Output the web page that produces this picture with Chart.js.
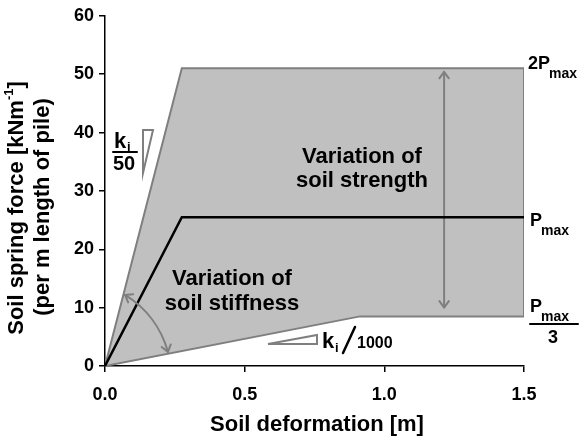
<!DOCTYPE html>
<html>
<head>
<meta charset="utf-8">
<script src="https://cdn.jsdelivr.net/npm/chart.js"></script>
<style>
  html, body { margin: 0; padding: 0; background: #fff; }
  #wrap { width: 581px; height: 439px; }
</style>
</head>
<body>
<div id="wrap"><canvas id="chart" width="581" height="439"></canvas></div>
<script>
// grey band: range of soil spring curves (ki/50 .. ki/1000, Pmax/3 .. 2Pmax)
const envelopeX = [0, 0.275, 1.5, 1.5, 0.913, 0];
const envelopeY = [0, 51, 51, 8.5, 8.5, 0];
// reference curve
const pmaxX = [0, 0.275, 1.5];
const pmaxY = [0, 25.5, 25.5];
// double arrow for "variation of soil strength"
const arrowX = [1.214, 1.214];
const arrowY = [10, 50.4];
// axis ticks
const xTicks = [0, 0.5, 1.0, 1.5];
const yTicks = [0, 10, 20, 30, 40, 50, 60];

const FONT = "'Liberation Sans', Arial, sans-serif";
const GREY = '#7f7f7f';

const toPoints = (xs, ys) => xs.map((v, i) => ({ x: v, y: ys[i] }));

function chevron(ctx, tx, ty, dx, dy, size) {
  // open arrowhead, tip at (tx,ty) pointing along (dx,dy)
  const a = Math.PI / 5;
  ctx.beginPath();
  for (const s of [-1, 1]) {
    const c = Math.cos(a * s), sn = Math.sin(a * s);
    const bx = -(dx * c - dy * sn), by = -(dx * sn + dy * c);
    ctx.moveTo(tx, ty);
    ctx.lineTo(tx + bx * size, ty + by * size);
  }
  ctx.stroke();
}

const overlay = {
  id: 'overlay',
  afterDatasetsDraw(chart) {
    const { ctx, scales: { x, y } } = chart;
    ctx.save();
    ctx.strokeStyle = GREY;
    ctx.lineWidth = 2;
    ctx.lineCap = 'round';

    // arrowheads on the vertical arrow
    const ax = x.getPixelForValue(arrowX[0]);
    chevron(ctx, ax, y.getPixelForValue(arrowY[1]), 0, -1, 8);
    chevron(ctx, ax, y.getPixelForValue(arrowY[0]), 0, 1, 8);

    // curved arrow for stiffness
    const cx = x.getPixelForValue(0) - 31, cy = y.getPixelForValue(0) + 12, r = 97.5;
    const a1 = -58.4 * Math.PI / 180, a2 = -15.5 * Math.PI / 180;
    ctx.beginPath();
    ctx.arc(cx, cy, r, a1, a2, false);
    ctx.stroke();
    chevron(ctx, cx + r * Math.cos(a1), cy + r * Math.sin(a1), Math.sin(a1), -Math.cos(a1), 8);
    chevron(ctx, cx + r * Math.cos(a2), cy + r * Math.sin(a2), -Math.sin(a2), Math.cos(a2), 8);

    // slope triangles
    ctx.lineJoin = 'miter';
    ctx.beginPath();
    ctx.moveTo(143, 130); ctx.lineTo(153, 130); ctx.lineTo(143, 173); ctx.closePath();
    ctx.stroke();
    ctx.beginPath();
    ctx.moveTo(268, 344); ctx.lineTo(317, 344); ctx.lineTo(317, 335); ctx.closePath();
    ctx.stroke();

    // texts
    ctx.fillStyle = '#000';
    ctx.strokeStyle = '#000';
    ctx.textAlign = 'center';
    ctx.textBaseline = 'alphabetic';
    ctx.font = `bold 22px ${FONT}`;
    ctx.fillText('Variation of', 362, 163);
    ctx.fillText('soil strength', 362, 187);
    ctx.fillText('Variation of', 232, 285);
    ctx.fillText('soil stiffness', 232, 310);

    // ki / 50
    ctx.textAlign = 'left';
    ctx.font = `bold 22px ${FONT}`;
    ctx.fillText('k', 114, 148);
    ctx.font = `bold 13px ${FONT}`;
    ctx.fillText('i', 127, 151);
    ctx.lineWidth = 2;
    ctx.beginPath(); ctx.moveTo(113, 152); ctx.lineTo(137, 152); ctx.stroke();
    ctx.textAlign = 'center';
    ctx.font = `bold 20px ${FONT}`;
    ctx.fillText('50', 124, 170);

    // ki / 1000
    ctx.textAlign = 'left';
    ctx.font = `bold 22px ${FONT}`;
    ctx.fillText('k', 322, 348);
    ctx.font = `bold 13px ${FONT}`;
    ctx.fillText('i', 335, 352);
    ctx.lineWidth = 2.5;
    ctx.beginPath(); ctx.moveTo(343, 353); ctx.lineTo(355, 327); ctx.stroke();
    ctx.font = `bold 16px ${FONT}`;
    ctx.fillText('1000', 357, 348);

    // right-hand labels
    const pLabel = (pre, px, base) => {
      ctx.font = `bold 18px ${FONT}`;
      ctx.fillText(pre, px, base);
      const w = ctx.measureText(pre).width;
      ctx.font = `bold 14px ${FONT}`;
      ctx.fillText('max', px + w - 1, base + 9);
    };
    pLabel('2P', 528, 69);
    pLabel('P', 530, 226);
    pLabel('P', 530, 312);
    ctx.lineWidth = 2;
    ctx.beginPath(); ctx.moveTo(530, 324); ctx.lineTo(578, 324); ctx.stroke();
    ctx.textAlign = 'center';
    ctx.font = `bold 18px ${FONT}`;
    ctx.fillText('3', 553, 343);

    // axis titles
    ctx.font = `bold 22px ${FONT}`;
    ctx.fillText('Soil deformation [m]', 317, 431);

    ctx.save();
    ctx.translate(17, 208);
    ctx.rotate(-Math.PI / 2);
    ctx.textBaseline = 'middle';
    ctx.textAlign = 'left';
    const p1 = 'Soil spring force [kNm', sup = '-1', p3 = ']';
    ctx.font = `bold 22px ${FONT}`;
    const w1 = ctx.measureText(p1).width, w3 = ctx.measureText(p3).width;
    ctx.font = `bold 13px ${FONT}`;
    const w2 = ctx.measureText(sup).width;
    let sx = -(w1 + w2 + w3) / 2;
    ctx.font = `bold 22px ${FONT}`;
    ctx.fillText(p1, sx, 0);
    ctx.font = `bold 13px ${FONT}`;
    ctx.fillText(sup, sx + w1, -8);
    ctx.font = `bold 22px ${FONT}`;
    ctx.fillText(p3, sx + w1 + w2, 0);
    ctx.restore();

    ctx.save();
    ctx.translate(43, 207);
    ctx.rotate(-Math.PI / 2);
    ctx.textBaseline = 'middle';
    ctx.textAlign = 'center';
    ctx.font = `bold 22px ${FONT}`;
    ctx.fillText('(per m length of pile)', 0, 0);
    ctx.restore();

    ctx.restore();
  }
};

const axisCommon = {
  type: 'linear',
  grid: { display: true, drawOnChartArea: false, drawTicks: true, tickLength: 6, color: '#000', lineWidth: 1.5 },
  border: { display: true, color: '#000', width: 1.5 },
  title: { display: false }
};

new Chart(document.getElementById('chart'), {
  type: 'scatter',
  data: {
    datasets: [
      {
        data: toPoints(envelopeX, envelopeY),
        order: 3,
        showLine: true,
        borderColor: GREY,
        borderWidth: 2,
        backgroundColor: '#c0c0c0',
        fill: 'shape',
        pointRadius: 0,
        tension: 0
      },
      {
        data: toPoints(pmaxX, pmaxY),
        order: 1,
        showLine: true,
        borderColor: '#000',
        borderWidth: 2.5,
        pointRadius: 0,
        fill: false
      },
      {
        data: toPoints(arrowX, arrowY),
        order: 2,
        showLine: true,
        borderColor: GREY,
        borderWidth: 2,
        pointRadius: 0,
        fill: false
      }
    ]
  },
  options: {
    responsive: false,
    animation: false,
    layout: { padding: { top: 14, right: 57, left: 0, bottom: 0 } },
    plugins: { legend: { display: false }, tooltip: { enabled: false } },
    scales: {
      x: {
        ...axisCommon,
        min: 0, max: 1.5,
        afterBuildTicks: s => { s.ticks = xTicks.map(v => ({ value: v })); },
        afterFit: s => { s.height = 73; },
        ticks: {
          padding: 12,
          color: '#000',
          font: { family: FONT, size: 18, weight: 'bold' },
          callback: v => Number(v).toFixed(1)
        }
      },
      y: {
        ...axisCommon,
        min: 0, max: 60,
        afterBuildTicks: s => { s.ticks = yTicks.map(v => ({ value: v })); },
        afterFit: s => { s.width = 105; },
        ticks: {
          padding: 5,
          color: '#000',
          font: { family: FONT, size: 18, weight: 'bold' },
          callback: v => String(v)
        }
      }
    }
  },
  plugins: [overlay]
});
</script>
</body>
</html>
